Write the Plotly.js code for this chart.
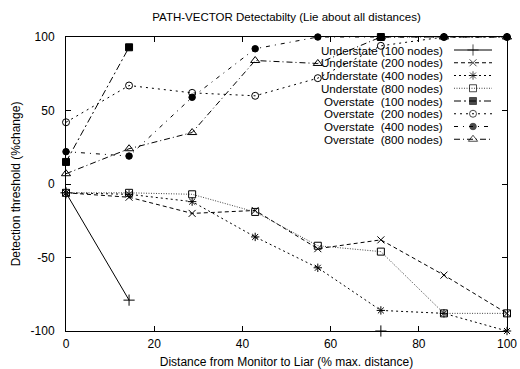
<!DOCTYPE html>
<html><head><meta charset="utf-8">
<script src="https://cdn.plot.ly/plotly-3.0.1.min.js"></script>
<style>body{margin:0;padding:0;background:#fff}#c{width:520px;height:369px}</style>
</head><body><div id="c"></div>
<script>
var xs = [0, 14.3, 28.6, 42.9, 57.1, 71.4, 85.7, 100];
var u100 = [-6, -79, null, null, null, -100, null, null];
var u200 = [-6, -9, -20, -18, -44, -38, -62, -88];
var u400 = [-6, -7, -12, -36, -57, -86, -88, -100];
var u800 = [-6, -6, -7, -19, -42, -46, -88, -88];
var o100 = [15, 93, null, null, null, 100, null, null];
var o200 = [42, 67, 62, 60, 72, 94, 100, 100];
var o400 = [22, 19, 59, 92, 100, 100, 100, 100];
var o800 = [7, 24, 35, 84, 82, 100, 100, 100];
var names = ["Understate (100 nodes)", "Understate (200 nodes)", "Understate (400 nodes)", "Understate (800 nodes)",
             "Overstate  (100 nodes)", "Overstate  (200 nodes)", "Overstate  (400 nodes)", "Overstate  (800 nodes)"];
var xTicks = [0, 20, 40, 60, 80, 100];
var yTicks = [-100, -50, 0, 50, 100];

var series = [u100, u200, u400, u800, o100, o200, o400, o800];
var styles = [
  {dash: "solid", sym: "cross-thin-open", size: 8},
  {dash: "4px,3px", sym: "x-thin-open", size: 7},
  {dash: "2px,3px", sym: "asterisk-open", size: 7},
  {dash: "1px,1.5px", sym: "square-open", size: 7, color: "#444"},
  {dash: "7px,3px,2px,3px", sym: "square", size: 7},
  {dash: "2px,4px", sym: "circle-open", size: 7},
  {dash: "4px,5px,1px,5px", sym: "circle", size: 6.5},
  {dash: "6px,3px,1px,3px", sym: "triangle-up-open", size: 8}
];

var traces = [];
series.forEach(function (ys, i) {
  var s = styles[i];
  traces.push({
    x: xs, y: ys, type: "scatter", mode: "lines+markers", name: names[i],
    connectgaps: false, cliponaxis: false, showlegend: false,
    line: {color: s.color || "#000", width: 1, dash: s.dash},
    marker: {symbol: s.sym, size: s.size, color: "#000", line: {color: "#000", width: 1}}
  });
});

// custom legend (text right-aligned, sample on the right)
var W = 441, H = 294, L = 66, T = 37;
function px2x(p) { return (p - L) / W; }
function py2y(p) { return (T + H - p) / H; }
var annotations = [];
names.forEach(function (n, i) {
  var rowY = 50 + 12.75 * i;
  annotations.push({
    xref: "paper", yref: "paper", x: px2x(444), y: py2y(rowY), xanchor: "right", yanchor: "middle",
    borderpad: 0,
    text: n.replace(/ /g, "&nbsp;"), showarrow: false, font: {family: "Liberation Sans, Arial, sans-serif", size: 11.6, color: "#000"}
  });
  var s = styles[i];
  traces.push({
    x: [px2x(454), px2x(473), px2x(492)], y: [py2y(rowY), py2y(rowY), py2y(rowY)],
    xaxis: "x2", yaxis: "y2", type: "scatter", mode: "lines+markers", showlegend: false, hoverinfo: "skip",
    cliponaxis: false,
    line: {color: s.color || "#000", width: 1, dash: s.dash},
    marker: {symbol: s.sym, size: [0, s.size, 0], color: "#000", line: {color: "#000", width: [0, 1, 0]}}
  });
});

var font = {family: "Liberation Sans, Arial, sans-serif", size: 12, color: "#000"};
var layout = {
  width: 520, height: 369,
  margin: {l: 66, r: 13, t: 37, b: 38},
  paper_bgcolor: "#fff", plot_bgcolor: "#fff",
  font: font,
  title: {text: "PATH-VECTOR Detectabilty (Lie about all distances)", x: 0.5, xref: "paper", y: 0.955, yanchor: "middle", font: {family: font.family, size: 11.5, color: "#000"}},
  xaxis: {
    range: [0, 100], tickvals: xTicks, ticktext: xTicks.map(String), ticks: "inside", ticklen: 5, tickcolor: "#000",
    showline: true, linecolor: "#000", linewidth: 1, mirror: "ticks", showgrid: false, zeroline: false,
    title: {text: "Distance from Monitor to Liar (% max. distance)", standoff: 8, font: font},
    ticklabelstandoff: 2
  },
  yaxis: {
    range: [-100, 100], tickvals: yTicks, ticktext: yTicks.map(String), ticks: "inside", ticklen: 5, tickcolor: "#000",
    showline: true, linecolor: "#000", linewidth: 1, mirror: "ticks", showgrid: false, zeroline: false,
    title: {text: "Detection threshold (%change)", standoff: 7, font: font},
    ticklabelstandoff: 8
  },
  xaxis2: {overlaying: "x", range: [0, 1], visible: false, fixedrange: true},
  yaxis2: {overlaying: "y", range: [0, 1], visible: false, fixedrange: true},
  annotations: annotations,
  showlegend: false
};
Plotly.newPlot("c", traces, layout, {staticPlot: true});
</script></body></html>
